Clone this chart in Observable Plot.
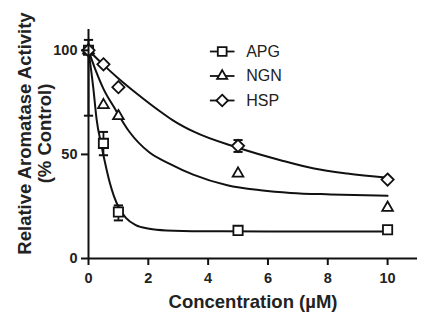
<!DOCTYPE html>
<html>
<head>
<meta charset="utf-8">
<script src="https://cdn.jsdelivr.net/npm/d3@7"></script>
<script src="https://cdn.jsdelivr.net/npm/@observablehq/plot@0.6"></script>
<style>
  html, body { margin: 0; padding: 0; background: #fff; }
  #chart svg { display: block; }
</style>
</head>
<body>
<div id="chart"></div>
<script>
// ---- data ----
const seriesNames = ["APG", "NGN", "HSP"];
const conc = [0, 0.5, 1, 5, 10];
const apg = [100, 55.3, 22.3, 13.5, 13.8];
const ngn = [100, 73.7, 68.4, 40.8, 24.4];
const hsp = [100, 93.3, 82.3, 54.1, 37.9];

// error bars (low / high), null where none is drawn
const apgLow  = [null, 49.6, 18.3, null, null];
const apgHigh = [null, 60.8, 25.5, null, null];
const ngnLow  = [68.6, null, null, null, null];
const ngnHigh = [105,  null, null, null, null];
const hspLow  = [null, null, null, 51.2, null];
const hspHigh = [null, null, null, 56.9, null];

// fitted curves
const apgFitX = [0, 0.16, 0.27, 0.43, 0.6, 0.71, 0.85, 1.03, 1.25, 1.58, 2.03, 2.6, 3.8, 6, 10];
const apgFitY = [100, 82, 67, 54.5, 43, 36.5, 30, 24, 19.5, 16, 14.3, 13.5, 13.1, 13, 13];
const ngnFitX = [0, 0.25, 0.5, 0.86, 1.36, 2.03, 2.7, 3.5, 4.64, 5.75, 6.76, 8.1, 10];
const ngnFitY = [100, 90, 81.5, 72.5, 61, 51, 45.6, 40.3, 35.2, 32.8, 31.5, 30.8, 30.2];
const hspFitX = [0, 0.5, 1, 1.6, 2.41, 2.81, 3.52, 4.97, 6.42, 7.54, 8.65, 10];
const hspFitY = [100, 93, 86.5, 79.4, 70.5, 66.5, 60.9, 53.3, 47.2, 43.2, 40.8, 38.8];

const xTicks = [0, 2, 4, 6, 8, 10];
const yTicks = [0, 50, 100];
const xDomain = [0, 11];
const yDomain = [0, 110];

// ---- build tables ----
const symbols = {APG: "square2", NGN: "triangle2", HSP: "diamond2"};
const radii = {APG: 5.9, NGN: 5.1, HSP: 5.5};
const vals = {APG: apg, NGN: ngn, HSP: hsp};
const lows = {APG: apgLow, NGN: ngnLow, HSP: hspLow};
const highs = {APG: apgHigh, NGN: ngnHigh, HSP: hspHigh};
const fits = {APG: [apgFitX, apgFitY], NGN: [ngnFitX, ngnFitY], HSP: [hspFitX, hspFitY]};

const ink = "#111";
const capSym = {draw(ctx) { ctx.moveTo(-4.6, 0); ctx.lineTo(4.6, 0); }};
const legLine = {draw(ctx) { ctx.moveTo(-12.3, 0); ctx.lineTo(12.3, 0); }};

const marks = [];

// fitted curves
for (const s of seriesNames) {
  const [fx, fy] = fits[s];
  const t = fx.map((x, i) => ({x, y: fy[i]}));
  marks.push(Plot.line(t, {x: "x", y: "y", curve: "monotone-x", stroke: ink, strokeWidth: 2}));
}

// error bars
for (const s of seriesNames) {
  const t = conc.map((x, i) => ({x, lo: lows[s][i], hi: highs[s][i]})).filter(d => d.lo != null);
  marks.push(Plot.ruleX(t, {x: "x", y1: "lo", y2: "hi", stroke: ink, strokeWidth: 1.8}));
  marks.push(Plot.dot(t, {x: "x", y: "lo", symbol: capSym, stroke: ink, strokeWidth: 2}));
  marks.push(Plot.dot(t, {x: "x", y: "hi", symbol: capSym, stroke: ink, strokeWidth: 2}));
}

// data markers
for (const s of seriesNames) {
  const t = conc.map((x, i) => ({x, y: vals[s][i]}));
  marks.push(Plot.dot(t, {x: "x", y: "y", symbol: symbols[s], r: radii[s], fill: "white", stroke: ink, strokeWidth: 1.8}));
}

// axes
marks.push(Plot.ruleY([yDomain[0]], {x1: xDomain[0], x2: xDomain[1], stroke: ink, strokeWidth: 2}));
marks.push(Plot.ruleX([xDomain[0]], {y1: yDomain[0], y2: yDomain[1], stroke: ink, strokeWidth: 2}));
marks.push(Plot.axisX({ticks: xTicks, tickSize: 7, tickPadding: 7, strokeWidth: 2, stroke: ink, label: null, fontSize: 14.5, fontWeight: "bold", fill: "#222"}));
marks.push(Plot.axisY({ticks: yTicks, tickSize: 7, tickPadding: 4, strokeWidth: 2, stroke: ink, label: null, fontSize: 14.5, fontWeight: "bold", fill: "#222"}));

// axis titles
marks.push(Plot.text(["Relative Aromatase Activity"], {text: d => d, frameAnchor: "left", dx: -63, dy: -10.5, rotate: -90, textAnchor: "middle", lineAnchor: "middle", fontSize: 18.5, fontWeight: "bold", fill: "#222"}));
marks.push(Plot.text(["(% Control)"], {text: d => d, frameAnchor: "left", dx: -43, dy: -10.5, rotate: -90, textAnchor: "middle", lineAnchor: "middle", fontSize: 18.5, fontWeight: "bold", fill: "#222"}));
marks.push(Plot.text(["Concentration (µM)"], {text: d => d, frameAnchor: "bottom", dy: 44, textAnchor: "middle", lineAnchor: "middle", fontSize: 18.5, fontWeight: "bold", fill: "#222"}));

// legend
seriesNames.forEach((s, i) => {
  const dy = 22 + 24.5 * i;
  marks.push(Plot.dot([s], {frameAnchor: "top-left", dx: 133.7, dy, symbol: legLine, stroke: ink, strokeWidth: 1.8}));
  marks.push(Plot.dot([s], {frameAnchor: "top-left", dx: 133.7, dy, symbol: symbols[s], r: radii[s] * 0.95, fill: "white", stroke: ink, strokeWidth: 1.8}));
  marks.push(Plot.text([s], {text: d => d, frameAnchor: "top-left", dx: 157.7, dy, textAnchor: "start", lineAnchor: "middle", fontSize: 16, fontWeight: "normal", fill: "#222"}));
});

const chart = Plot.plot({
  width: 434,
  height: 327,
  marginLeft: 88,
  marginRight: 17,
  marginTop: 29,
  marginBottom: 69,
  x: {domain: xDomain},
  y: {domain: yDomain},
  style: {fontFamily: "'Liberation Sans', Arial, sans-serif", background: "white", color: "#222"},
  marks
});
document.getElementById("chart").appendChild(chart);
</script>
</body>
</html>
